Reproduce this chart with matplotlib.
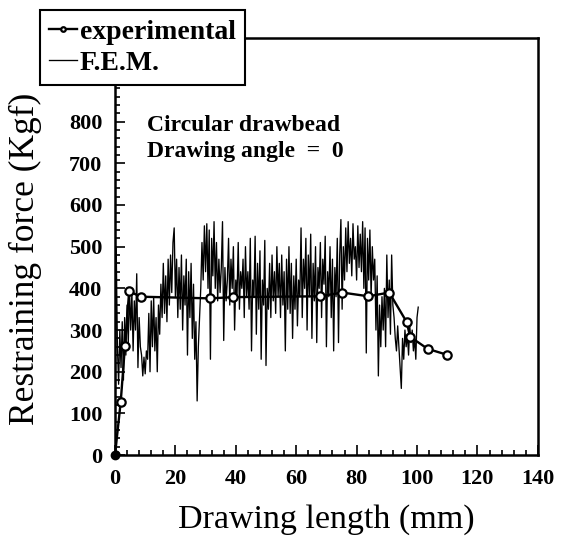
import numpy as np
import matplotlib
matplotlib.use("Agg")
import matplotlib.pyplot as plt
from matplotlib.ticker import MultipleLocator

plt.rcParams['font.family'] = ['Liberation Serif', 'DejaVu Serif']

# Measured restraining force (Kgf) vs drawing length (mm)
exp_x = [0, 1.9, 3.3, 4.7, 8.5, 31.5, 39.2, 67.9, 75.2, 83.9, 90.8, 96.6, 97.7, 103.5, 109.8]
exp_y = [0, 128, 262, 393, 380, 376, 379, 381, 390, 381, 390, 319, 284, 255, 241]

# F.E.M. force history, sampled every 0.4 mm from 0 mm
fem_step = 0.4
fem_y = [
    0, 500, 260, 170, 300, 210, 320, 180, 330, 240,
    360, 270, 400, 300, 390, 250, 370, 300, 435, 210,
    330, 260, 240, 190, 235, 195, 250, 230, 340, 200,
    370, 260, 380, 250, 330, 200, 360, 290, 410, 330,
    460, 340, 430, 320, 470, 360, 480, 390, 510, 545,
    380, 470, 330, 450, 350, 480, 300, 430, 360, 470,
    240, 440, 330, 460, 280, 410, 230, 320, 130, 260,
    330, 400, 510, 420, 550, 440, 555, 400, 540, 230,
    520, 430, 560, 400, 510, 370, 470, 390, 450, 560,
    275, 450, 370, 420, 520, 360, 470, 400, 500, 300,
    420, 380, 510, 350, 440, 400, 470, 330, 500, 380,
    440, 350, 520, 250, 420, 380, 525, 290, 460, 350,
    490, 230, 420, 360, 515, 215, 400, 350, 460, 330,
    480, 370, 440, 340, 500, 380, 460, 330, 480, 360,
    440, 250, 470, 350, 500, 340, 460, 280, 430, 350,
    470, 310, 420, 380, 545, 330, 470, 400, 520, 300,
    480, 380, 530, 280, 460, 370, 500, 270, 450, 400,
    510, 330, 470, 410, 525, 260, 440, 380, 500, 330,
    470, 250, 450, 380, 520, 270, 480, 565, 350, 500,
    420, 545, 440, 560, 460, 520, 430, 555, 470, 500,
    420, 550, 450, 530, 440, 560, 400, 545, 245, 520,
    420, 540, 380, 500, 420, 470, 300, 430, 190, 360,
    260, 380, 300, 400, 260, 480, 330, 420, 290, 480,
    360, 330, 280, 250, 310, 260, 210, 160, 280, 230,
    300, 260, 290, 240, 310, 270, 300, 250, 280, 230,
    330, 355,
]
fem_x = np.arange(len(fem_y)) * fem_step

x_ticks = [0, 20, 40, 60, 80, 100, 120, 140]
y_ticks = [0, 100, 200, 300, 400, 500, 600, 700, 800, 900, 1000]
y_tick_labels = ["0", "100", "200", "300", "400", "500", "600", "700", "800", "", ""]

fig = plt.figure(figsize=(5.62, 5.38), dpi=100)
ax = fig.add_axes([0.2046, 0.154, 0.7524, 0.775])

fem_line, = ax.plot(fem_x, fem_y, color='black', lw=0.95, zorder=2, label='F.E.M.')
exp_line, = ax.plot(exp_x, exp_y, color='black', lw=1.7, marker='o', ms=6,
                    mfc='white', mec='black', mew=1.6, zorder=3, label='experimental')
# origin point drawn solid
ax.plot(exp_x[:1], exp_y[:1], 'o', color='black', ms=6, zorder=4, clip_on=False)

ax.set_xlim(0, 140)
ax.set_ylim(0, 1000)
ax.set_xticks(x_ticks)
ax.set_yticks(y_ticks)
ax.set_yticklabels(y_tick_labels)
ax.xaxis.set_minor_locator(MultipleLocator(4))
ax.yaxis.set_minor_locator(MultipleLocator(20))

ax.tick_params(which='both', direction='in', width=1.2)
ax.tick_params(which='major', length=7, labelsize=16)
ax.tick_params(which='minor', length=3.5)
ax.tick_params(axis='x', which='major', pad=10)
ax.tick_params(axis='y', which='major', pad=9)
for lab in ax.get_xticklabels() + ax.get_yticklabels():
    lab.set_fontweight('bold')
for sp in ax.spines.values():
    sp.set_linewidth(1.8)

ax.set_xlabel('Drawing length (mm)', fontsize=24.5)
ax.xaxis.set_label_coords(0.5, -0.118)
ax.set_ylabel('Restraining force (Kgf)', fontsize=25.5)
ax.yaxis.set_label_coords(-0.172, 0.47)

ax.text(0.0757, 0.815, 'Circular drawbead\nDrawing angle  =  0', transform=ax.transAxes,
        fontsize=17, fontweight='bold', va='top', ha='left', linespacing=1.3)

leg = fig.legend([exp_line, fem_line], ['experimental', 'F.E.M.'], loc='upper left',
                 bbox_to_anchor=(0.071, 0.981), bbox_transform=fig.transFigure,
                 borderaxespad=0, fancybox=False, framealpha=1, edgecolor='black',
                 handlelength=1.0, handletextpad=0.1, borderpad=0.33,
                 labelspacing=0.2, prop={'size': 20, 'weight': 'bold'},
                 markerscale=0.55)
leg.get_frame().set_linewidth(1.5)
leg.set_zorder(10)

fig.savefig('out.png', dpi=100)
